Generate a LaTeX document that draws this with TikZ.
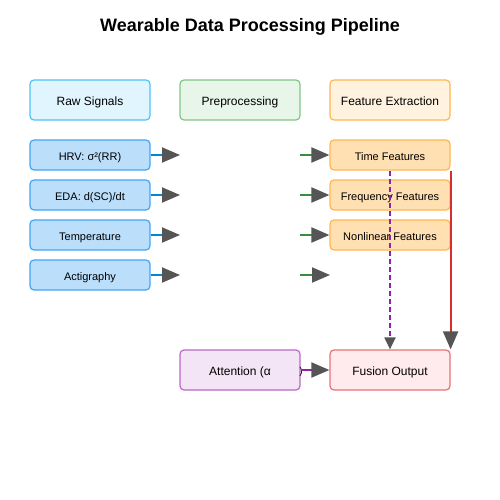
\documentclass[tikz,border=0pt]{standalone}
\usepackage{fontspec}
\setmainfont{Liberation Sans}
\usetikzlibrary{arrows.meta}
\definecolor{hdrBlueF}{HTML}{E1F5FE}\definecolor{hdrBlueD}{HTML}{4FC3F7}
\definecolor{hdrGreenF}{HTML}{E8F5E9}\definecolor{hdrGreenD}{HTML}{81C784}
\definecolor{hdrOrF}{HTML}{FFF3E0}\definecolor{hdrOrD}{HTML}{FFB74D}
\definecolor{sigF}{HTML}{BBDEFB}\definecolor{sigD}{HTML}{42A5F5}
\definecolor{featF}{HTML}{FFE0B2}\definecolor{featD}{HTML}{FFB74D}
\definecolor{attF}{HTML}{F3E5F5}\definecolor{attD}{HTML}{BA68C8}
\definecolor{fusF}{HTML}{FFEBEE}\definecolor{fusD}{HTML}{E57373}
\definecolor{lnBlue}{HTML}{0288D1}\definecolor{lnGreen}{HTML}{388E3C}
\definecolor{lnRed}{HTML}{D32F2F}\definecolor{lnPurple}{HTML}{8E24AA}
\definecolor{tipGray}{HTML}{555555}
\begin{document}
\begin{tikzpicture}[x=1pt,y=-1pt,
  box/.style={draw, line width=1.2pt, rounded corners=4pt, minimum width=120pt, inner sep=0pt, text=black, text depth=0pt},
  hdr/.style={box, minimum height=40pt, text height=10.4pt, font=\fontsize{12}{14}\selectfont},
  small/.style={box, minimum height=30pt, text height=10pt, font=\fontsize{11}{13}\selectfont},
  bigtip/.style={-{Triangle[length=18pt,width=15pt,color=tipGray]}},
  smalltip/.style={-{Triangle[length=12pt,width=11pt,color=tipGray]}},
  conn/.style={line width=2pt}
]
\useasboundingbox (0,0) rectangle (500,500);
\node[font=\bfseries\fontsize{18}{21}\selectfont] (title) at (250,27) {Wearable Data Processing Pipeline};

\node[hdr, fill=hdrBlueF, draw=hdrBlueD] (raw) at (90,100) {Raw Signals};
\node[hdr, fill=hdrGreenF, draw=hdrGreenD] (pre) at (240,100) {Preprocessing};
\node[hdr, fill=hdrOrF, draw=hdrOrD] (fex) at (390,100) {Feature Extraction};

\node[small, fill=sigF, draw=sigD] (s1) at (90,155) {HRV: σ²(RR)};
\node[small, fill=sigF, draw=sigD] (s2) at (90,195) {EDA: d(SC)/dt};
\node[small, fill=sigF, draw=sigD] (s3) at (90,235) {Temperature};
\node[small, fill=sigF, draw=sigD] (s4) at (90,275) {Actigraphy};

\node[small, fill=featF, draw=featD] (f1) at (390,155) {Time Features};
\node[small, fill=featF, draw=featD] (f2) at (390,195) {Frequency Features};
\node[small, fill=featF, draw=featD] (f3) at (390,235) {Nonlinear Features};

\node[hdr, fill=attF, draw=attD] (att) at (240,370) {Attention (α};
\node[hdr, fill=fusF, draw=fusD] (fus) at (390,370) {Fusion Output};
\node[font=\fontsize{10}{12}\selectfont, inner sep=0pt] (paren) at (301,372) {)};

\foreach \i/\y in {1/155,2/195,3/235,4/275}{
  \coordinate (pin\i) at (180,\y);
  \coordinate (pout\i) at (300,\y);
}
\coordinate (fin4) at (330,275);

\foreach \i in {1,2,3,4}{
  \draw[conn, draw=lnBlue, bigtip] (s\i.east) -- (pin\i);
}
\draw[conn, draw=lnGreen, bigtip] (pout1) -- (f1.west);
\draw[conn, draw=lnGreen, bigtip] (pout2) -- (f2.west);
\draw[conn, draw=lnGreen, bigtip] (pout3) -- (f3.west);
\draw[conn, draw=lnGreen, bigtip] (pout4) -- (fin4);

\draw[conn, draw=lnPurple, dashed, dash pattern=on 5pt off 3pt, smalltip] (f1.south) -- (fus.north);
\draw[conn, draw=lnRed, bigtip] (f1.south east) -- (fus.north east);
\draw[conn, draw=lnPurple, bigtip] (att.east) -- (fus.west);
\end{tikzpicture}
\end{document}
